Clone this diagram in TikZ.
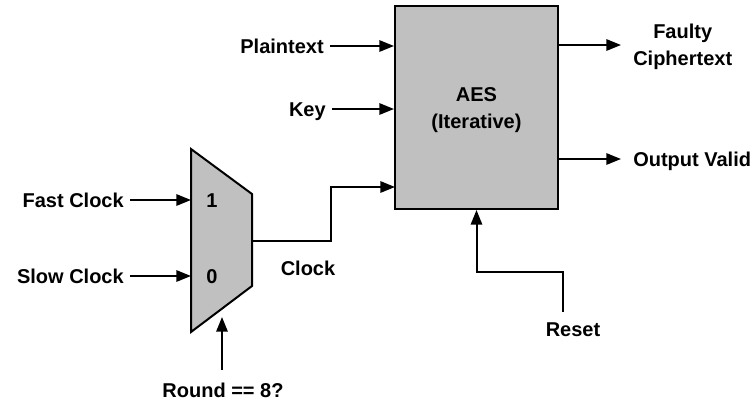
\documentclass[tikz,border=0pt]{standalone}
\usepackage{fontspec}
\setmainfont{Liberation Sans}
\usetikzlibrary{arrows.meta,calc}
\definecolor{blockgray}{RGB}{192,192,192}
\begin{document}
\begin{tikzpicture}[x=0.75pt,y=-0.75pt,
  every node/.style={font=\fontsize{15pt}{20.25pt}\selectfont\bfseries},
  lbl/.style={inner ysep=0pt,inner xsep=4.5pt,text height=10.75pt,text depth=0pt},
  outlbl/.style={inner ysep=0pt,inner xsep=9pt,align=left},
  wire/.style={line width=1.5pt},
  arr/.style={wire,-{Triangle[length=11pt,width=8.5pt]}},
  block/.style={draw,line width=1.5pt,fill=blockgray}]
\useasboundingbox (0,0) rectangle (754,405);
% AES block
\node[block,minimum width=122.25pt,minimum height=152.25pt,inner sep=0pt] (aes) at (476.5,107.5) {};
\node[align=center,inner sep=0pt] (aestext) at (476.5,110.5) {AES\\(Iterative)};
% Mux
\draw[block] (191,149) -- (252,194) -- (252,286) -- (191,332) -- cycle;
\coordinate (m1) at (191,200);
\coordinate (m0) at (191,276);
\coordinate (mout) at (252,241);
\coordinate (msel) at (222,317);
\node[lbl] (one) at (212,200) {1};
\node[lbl] (zero) at (212,276) {0};
% inputs to AES
\node[lbl,anchor=east] (pt) at (330,46) {Plaintext};
\node[lbl,anchor=east] (key) at (332,109) {Key};
\coordinate (clkin) at (395,187);
\draw[arr] (pt.east) -- (aes.west |- pt.east);
\draw[arr] (key.east) -- (aes.west |- key.east);
% outputs
\coordinate (fc) at (621,45);
\coordinate (ov) at (621,159);
\node[outlbl,anchor=west,align=center] (faulty) at (621,46.5) {Faulty\\Ciphertext};
\node[lbl,anchor=west,inner xsep=9pt] (valid) at (621,159) {Output Valid};
\draw[arr] (aes.east |- fc) -- (fc);
\draw[arr] (aes.east |- valid.west) -- (valid.west);
% mux inputs
\node[lbl,anchor=east] (fast) at (130,200) {Fast Clock};
\node[lbl,anchor=east] (slow) at (130,276) {Slow Clock};
\draw[arr] (fast.east) -- (m1);
\draw[arr] (slow.east) -- (m0);
% clock
\draw[arr] (mout) -- (331,241) |- (clkin);
\node[lbl] (clk) at (308,268) {Clock};
% select
\node[lbl,inner ysep=9.75pt] (round) at (223,390) {Round == 8?};
\draw[arr] (round.north -| msel) -- (msel);
% reset
\node[lbl,inner ysep=7.7pt] (reset) at (573,329.5) {Reset};
\draw[arr] ([xshift=-7.5pt]reset.north) -- ++(0,-40) -| (aes.south);
\end{tikzpicture}
\end{document}
